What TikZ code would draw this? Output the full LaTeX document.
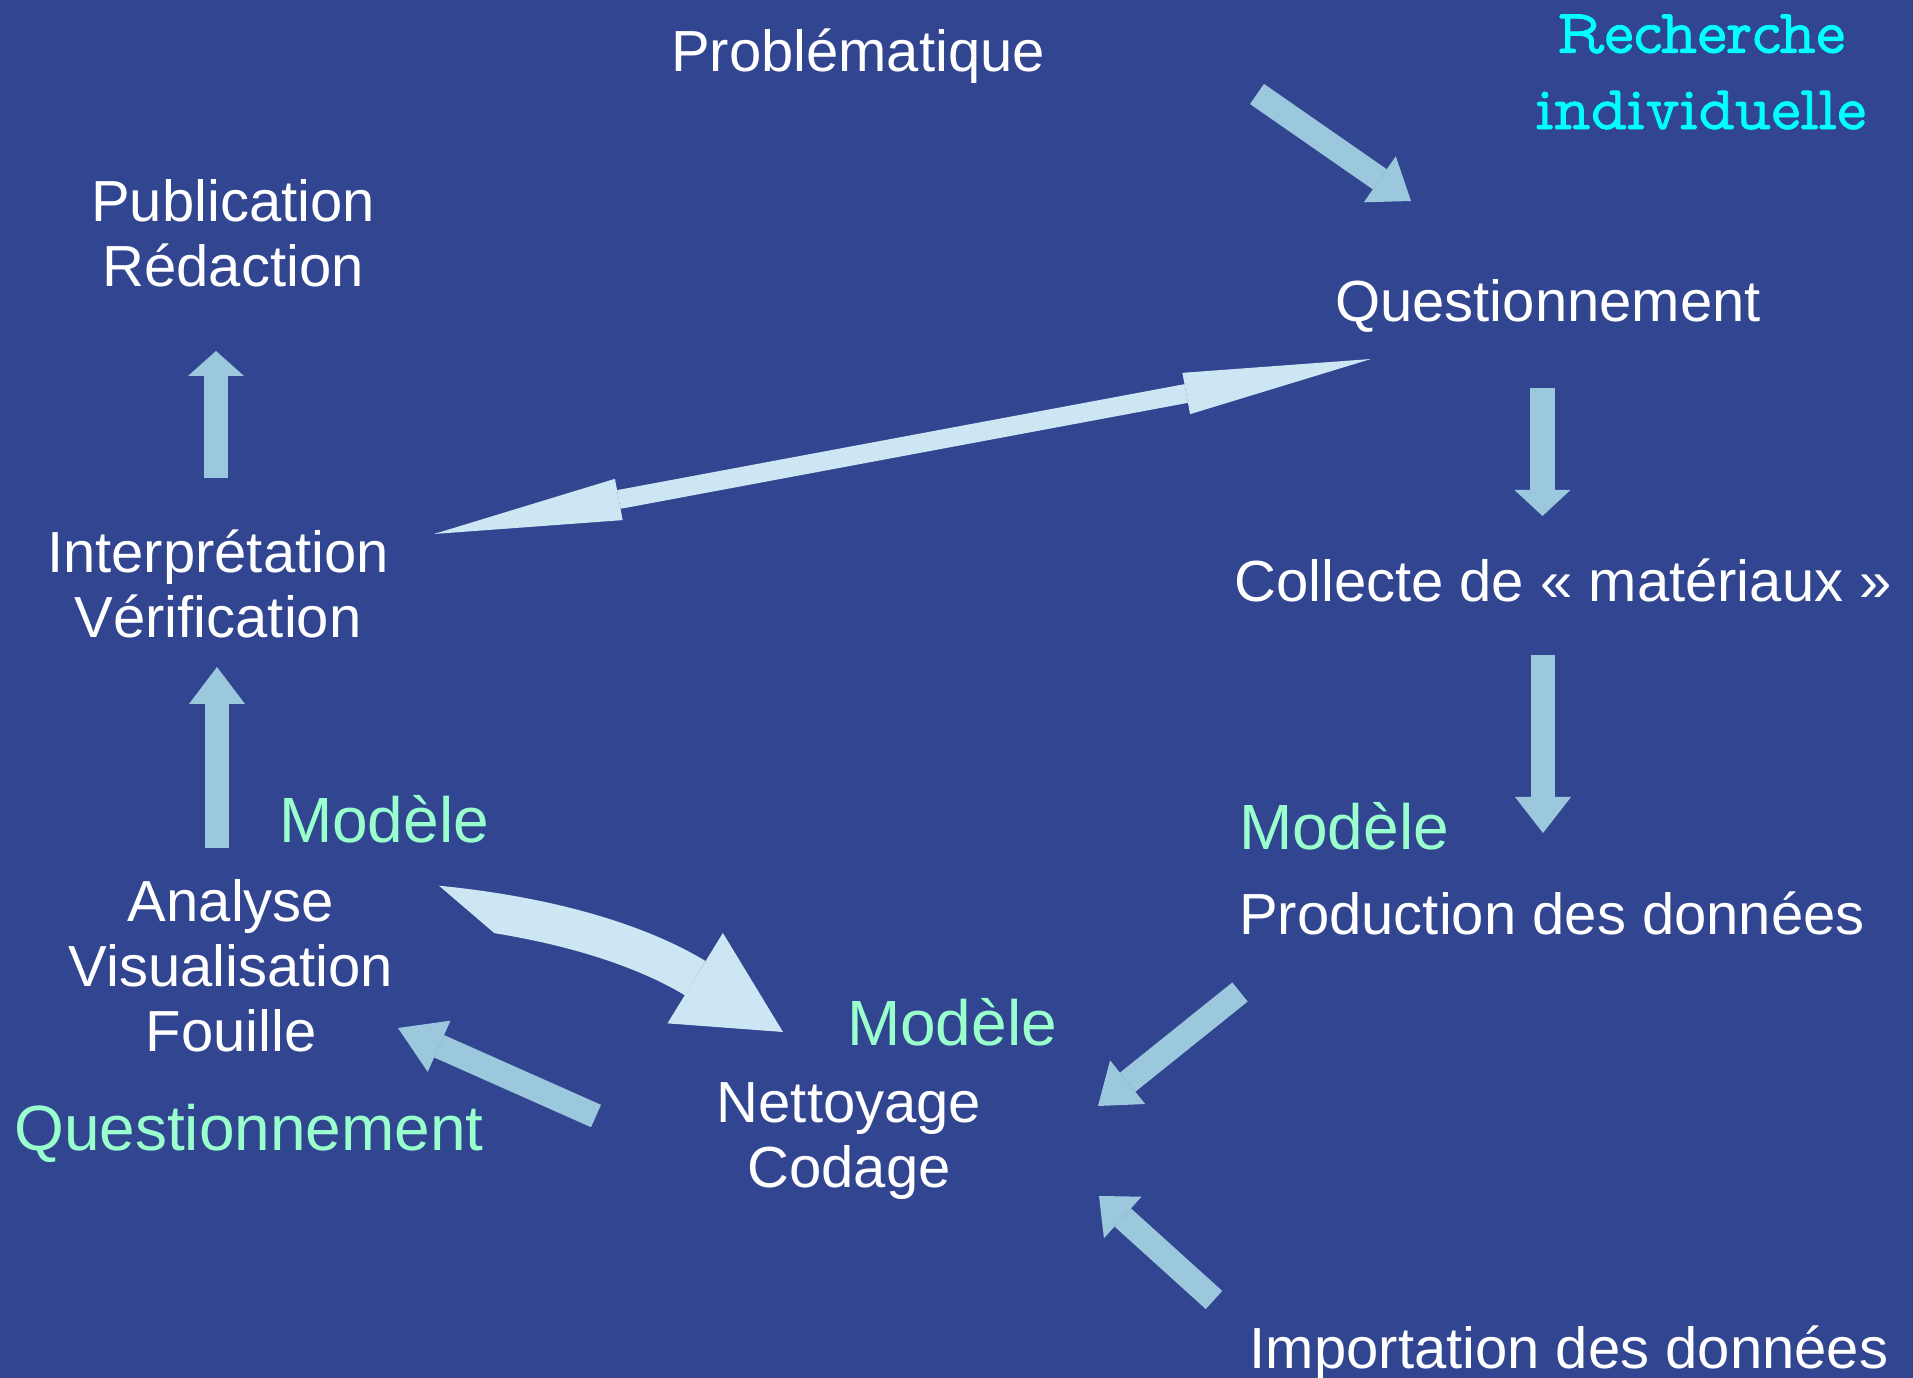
\documentclass[tikz,border=0pt]{standalone}
\usepackage{fontspec}
\setmainfont{Liberation Sans}
\newfontfamily\typefont[Extension=.otf,FakeBold=1.2]{lmmonoprop10-regular}
\usetikzlibrary{arrows.meta}

\definecolor{bgblue}{RGB}{50,69,144}
\definecolor{arrowblue}{RGB}{156,200,222}
\definecolor{paleblue}{RGB}{205,230,244}
\definecolor{mint}{RGB}{153,255,204}
\definecolor{cyantext}{RGB}{0,255,255}

\tikzset{
	stage/.style={text=white, align=center, inner sep=0pt, font=\fontsize{16.5}{18.5}\selectfont},
	model/.style={text=mint, inner sep=0pt, font=\fontsize{18.2}{20}\selectfont},
	flow/.style={draw=arrowblue, line width=2.45mm, -{Triangle[length=#1,width=5.6mm,line width=0pt]}},
	flow/.default=3.8mm
}

\begin{document}
\begin{tikzpicture}
		
		% background
		\fill[bgblue] (0,0) rectangle (19.13,-13.78);
		\useasboundingbox (0,0) rectangle (19.13,-13.78);
		
		% stages of the cycle
		\node[stage] (probl) at (8.58,-0.56) {Problématique};
		\node[text=cyantext, align=center, inner sep=0pt, font=\typefont\fontsize{17.8}{21.7}\selectfont] (rech) at (17.01,-0.72) {Recherche\\individuelle};
		\node[stage] (publi) at (2.33,-2.33) {Publication\\Rédaction};
		\node[stage] (quest) at (15.48,-3.06) {Questionnement};
		\node[stage] (interp) at (2.18,-5.84) {Interprétation\\Vérification};
		\node[stage] (collecte) at (15.63,-5.80) {Collecte de « matériaux »};
		\node[stage] (prod) at (15.52,-9.13) {Production des données};
		\node[stage] (analyse) at (2.31,-9.66) {Analyse\\Visualisation\\Fouille};
		\node[stage] (nett) at (8.49,-11.41) {Nettoyage\\Codage};
		\node[stage] (import) at (15.69,-13.53) {Importation des données};
		
		% green labels
		\node[model] (modA) at (3.84,-8.19) {Modèle};
		\node[model] (modB) at (13.44,-8.26) {Modèle};
		\node[model] (modC) at (9.52,-10.22) {Modèle};
		\node[model] (questB) at (2.49,-11.33) {Questionnement};
		
		% arrow ends
		\coordinate (probl-s) at (12.57,-0.94);
		\coordinate (quest-e) at (14.11,-2.01);
		\coordinate (quest-s) at (15.425,-3.88);
		\coordinate (collecte-e) at (15.425,-5.16);
		\coordinate (collecte-s) at (15.43,-6.55);
		\coordinate (prod-e) at (15.43,-8.33);
		\coordinate (prod-s) at (12.40,-9.92);
		\coordinate (nett-e1) at (10.98,-11.06);
		\coordinate (import-s) at (12.14,-13.00);
		\coordinate (nett-e2) at (10.99,-11.96);
		\coordinate (nett-s) at (5.96,-11.16);
		\coordinate (analyse-e) at (3.98,-10.28);
		\coordinate (analyse-s1) at (4.25,-9.045);
		\coordinate (nett-e3) at (7.83,-10.32);
		\coordinate (analyse-s2) at (2.17,-8.48);
		\coordinate (interp-e) at (2.17,-6.67);
		\coordinate (interp-s) at (2.16,-4.78);
		\coordinate (publi-e) at (2.16,-3.51);
		\coordinate (interp-w) at (4.34,-5.34);
		\coordinate (quest-w) at (13.71,-3.59);
		
		% block arrows
		\draw[flow] (probl-s) -- (quest-e);
		\draw[flow=2.6mm] (quest-s) -- (collecte-e);
		\draw[flow=3.6mm] (collecte-s) -- (prod-e);
		\draw[flow] (prod-s) -- (nett-e1);
		\draw[flow=3.2mm] (import-s) -- (nett-e2);
		\draw[flow=4.5mm] (nett-s) -- (analyse-e);
		\draw[flow=3.7mm] (analyse-s2) -- (interp-e);
		\draw[flow=2.5mm] (interp-s) -- (publi-e);
		
		% curved arrow, model to cleaning (tail cut on a slant)
		\begin{scope}
			\clip (3.81,-8.36) -- (6.61,-10.76) -- (9.5,-11.5) -- (9.5,-7.8) -- cycle;
			\draw[draw=paleblue, line width=4mm, -{Triangle[length=10.3mm,width=10.6mm,line width=0pt]}]
			(analyse-s1) to[out=-5,in=148.5] (nett-e3);
		\end{scope}
		
		% long double arrow
		\draw[draw=paleblue, line width=1.9mm, {Triangle[length=18.8mm,width=4.2mm,line width=0pt]}-{Triangle[length=18.8mm,width=4.2mm,line width=0pt]}]
		(interp-w) -- (quest-w);
		
\end{tikzpicture}
\end{document}
